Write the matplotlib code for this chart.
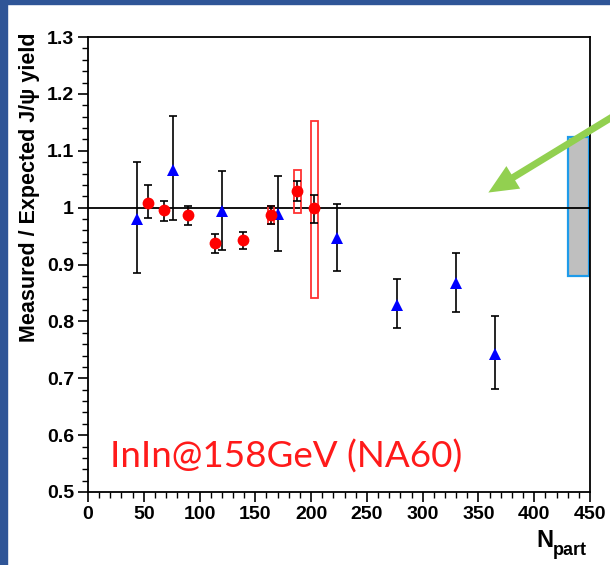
import matplotlib
matplotlib.use("Agg")
import matplotlib.pyplot as plt
from matplotlib.patches import Rectangle, FancyArrowPatch
from matplotlib.ticker import MultipleLocator, FixedLocator, FuncFormatter
from matplotlib.font_manager import FontProperties

# ---------------- data ----------------
blue_x = [44, 76.5, 120, 170.5, 223.5, 277, 330, 365]
blue_y = [0.980, 1.067, 0.994, 0.989, 0.946, 0.828, 0.867, 0.742]
blue_hi = [1.081, 1.161, 1.064, 1.056, 1.006, 0.874, 0.921, 0.810]
blue_lo = [0.885, 0.979, 0.926, 0.924, 0.888, 0.788, 0.816, 0.681]

red_x = [54, 68, 90, 114, 139, 164, 187.5, 203]
red_y = [1.009, 0.996, 0.987, 0.937, 0.943, 0.987, 1.029, 0.999]
red_hi = [1.040, 1.012, 1.003, 0.954, 0.957, 1.003, 1.046, 1.023]
red_lo = [0.982, 0.976, 0.970, 0.921, 0.927, 0.971, 1.012, 0.973]

syst_x = [164, 187.5, 203]
syst_lo = [0.972, 0.990, 0.841]
syst_hi = [1.002, 1.067, 1.152]
syst_w = 6

norm_box_x = [430, 449]
norm_box_y = [0.880, 1.124]

x_ticks = [0, 50, 100, 150, 200, 250, 300, 350, 400, 450]
y_ticks = [0.5, 0.6, 0.7, 0.8, 0.9, 1.0, 1.1, 1.2, 1.3]

W, H = 610, 565
fig = plt.figure(figsize=(W / 100, H / 100), dpi=100)
fig.patch.set_facecolor("white")

# slide border strips
border = "#2F5597"
fig.patches.append(Rectangle((0, 0), 7 / W, 1, transform=fig.transFigure, color=border, zorder=0))
fig.patches.append(Rectangle((0, 1 - 4 / H), 1, 4 / H, transform=fig.transFigure, color=border, zorder=0))

L, R, T, B = 88, 590, 37, 492
ax = fig.add_axes([L / W, 1 - B / H, (R - L) / W, (B - T) / H])
ax.set_xlim(0, 450)
ax.set_ylim(0.5, 1.3)

for s in ax.spines.values():
    s.set_linewidth(1.3)
    s.set_color("black")

ax.axhline(1.0, color="black", lw=1.3, zorder=2)

# normalisation box
ax.add_patch(Rectangle((norm_box_x[0], norm_box_y[0]), norm_box_x[1] - norm_box_x[0],
                       norm_box_y[1] - norm_box_y[0], facecolor="#BFBFBF",
                       edgecolor="#1E9BEA", lw=1.6, zorder=1))

# systematic boxes
for xc, lo, hi in zip(syst_x, syst_lo, syst_hi):
    ax.add_patch(Rectangle((xc - syst_w / 2, lo), syst_w, hi - lo, facecolor="none",
                           edgecolor="#FF3333", lw=1.3, zorder=3))

# error bars
ax.errorbar(blue_x, blue_y,
            yerr=[[y - l for y, l in zip(blue_y, blue_lo)], [h - y for y, h in zip(blue_y, blue_hi)]],
            fmt="none", ecolor="black", elinewidth=1.2, capsize=3, capthick=1.2, zorder=4)
ax.errorbar(red_x, red_y,
            yerr=[[y - l for y, l in zip(red_y, red_lo)], [h - y for y, h in zip(red_y, red_hi)]],
            fmt="none", ecolor="black", elinewidth=1.2, capsize=3, capthick=1.2, zorder=4)

ax.plot(blue_x, blue_y, linestyle="none", marker="^", color="#0000FF", markersize=8.5,
        markeredgewidth=0, zorder=5)
ax.plot(red_x, red_y, linestyle="none", marker="o", color="#FF0000", markersize=8.5,
        markeredgewidth=0, zorder=5)

# ticks
tick_fp = FontProperties(family="Liberation Sans", weight="bold", size=14)
ax.xaxis.set_major_locator(FixedLocator(x_ticks))
ax.yaxis.set_major_locator(FixedLocator(y_ticks))
ax.xaxis.set_minor_locator(MultipleLocator(10))
ax.yaxis.set_minor_locator(MultipleLocator(0.02))
ax.yaxis.set_major_formatter(FuncFormatter(lambda v, p: "1" if abs(v - 1) < 1e-9 else f"{v:.1f}"))
ax.xaxis.set_major_formatter(FuncFormatter(lambda v, p: f"{v:.0f}"))
ax.tick_params(which="major", direction="out", length=7, width=1.2, pad=3)
ax.tick_params(which="minor", direction="out", length=4, width=1.0)
for lab in ax.get_xticklabels() + ax.get_yticklabels():
    lab.set_fontproperties(tick_fp)

# axis titles
fig.text(30 / W, 1 - 33 / H, "Measured / Expected J/\u03c8 yield", rotation=90,
         ha="center", va="top", family="Liberation Sans", weight="bold", size=15.5)
fig.text(553 / W, 1 - 547 / H, "N", ha="right", va="baseline",
         family="Liberation Sans", weight="bold", size=17)
fig.text(553 / W, 1 - 555 / H, "part", ha="left", va="baseline",
         family="Liberation Sans", weight="bold", size=13)

# annotation text
fig.text(110 / W, 1 - 468 / H, "InIn@158GeV (NA60)", ha="left", va="baseline",
         family="Lato", weight="normal", size=26.5, color="#FF1A1A")

# green arrow
arrow = FancyArrowPatch((622, H - 111), (486, H - 194), transform=None,
                        arrowstyle="simple,tail_width=0.25,head_width=0.95,head_length=1.05",
                        mutation_scale=20, color="#92D050", lw=0, zorder=10)
fig.patches.append(arrow)

fig.savefig("out.png", dpi=100, facecolor="white")
